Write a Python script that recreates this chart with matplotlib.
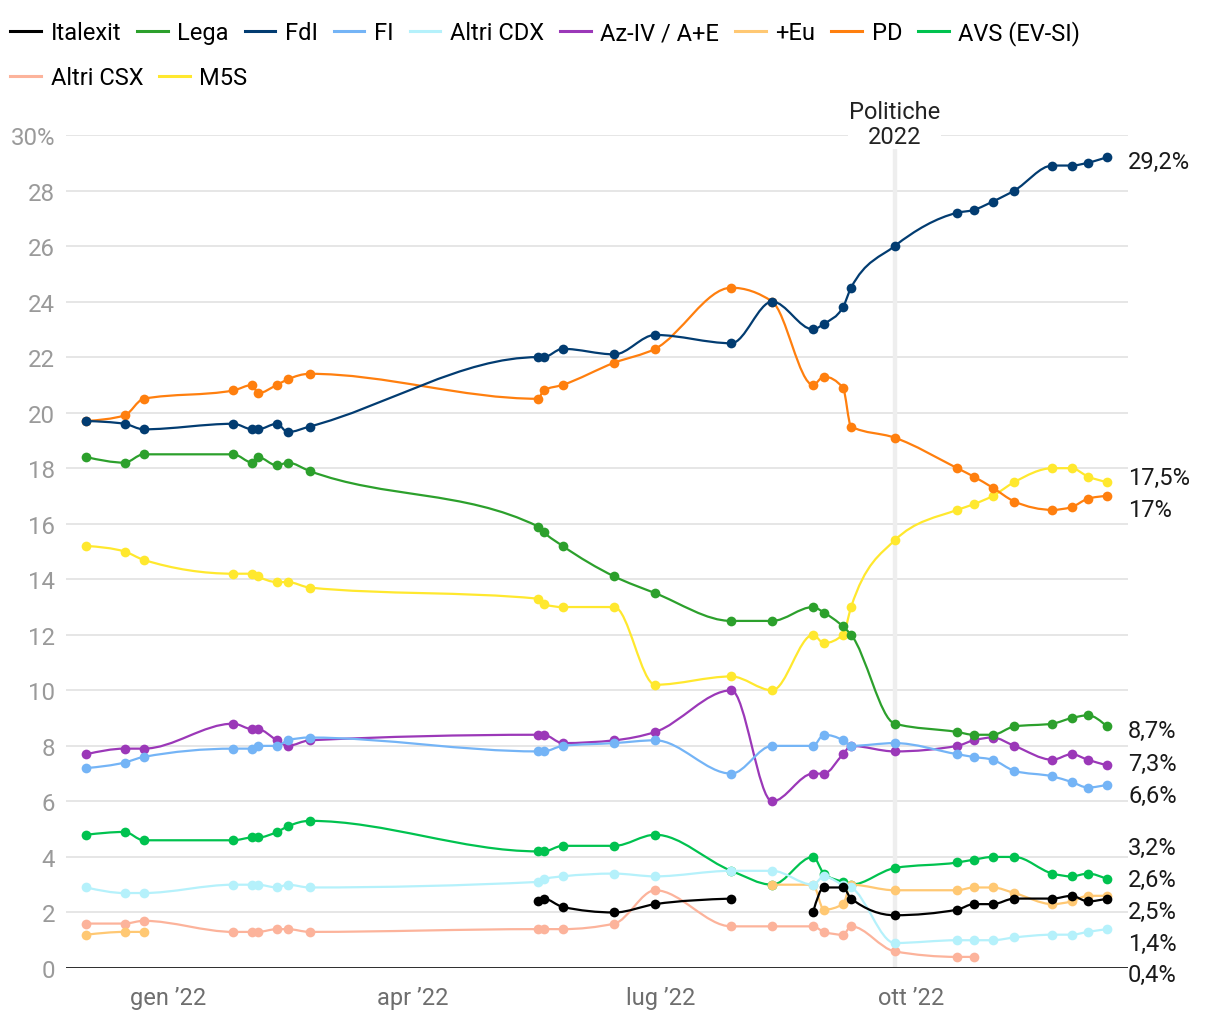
import numpy as np
import pandas as pd
import matplotlib
matplotlib.use("Agg")
import matplotlib.pyplot as plt
import matplotlib.dates as mdates
from matplotlib.path import Path
from matplotlib.patches import PathPatch
from matplotlib.lines import Line2D
from matplotlib.transforms import blended_transform_factory, offset_copy

plt.rcParams['font.family'] = ['Roboto', 'DejaVu Sans']

# poll dates (common grid), None = no value for that party
dates = ['2021-12-02', '2021-12-16', '2021-12-23', '2022-01-25', '2022-02-01',
         '2022-02-03', '2022-02-10', '2022-02-14', '2022-02-22', '2022-05-17',
         '2022-05-19', '2022-05-26', '2022-06-14', '2022-06-29', '2022-07-27',
         '2022-08-11', '2022-08-26', '2022-08-30', '2022-09-06', '2022-09-09',
         '2022-09-25', '2022-10-18', '2022-10-24', '2022-10-31', '2022-11-08',
         '2022-11-22', '2022-11-29', '2022-12-05', '2022-12-12']

N = None
italexit = [N, N, N, N, N, N, N, N, N, 2.4, 2.5, 2.2, 2.0, 2.3, 2.5,
            N, 2.0, 2.9, 2.9, 2.5, 1.9, 2.1, 2.3, 2.3, 2.5, 2.5, 2.6, 2.4, 2.5]
lega = [18.4, 18.2, 18.5, 18.5, 18.2, 18.4, 18.1, 18.2, 17.9, 15.9, 15.7, 15.2, 14.1, 13.5, 12.5,
        12.5, 13.0, 12.8, 12.3, 12.0, 8.8, 8.5, 8.4, 8.4, 8.7, 8.8, 9.0, 9.1, 8.7]
fdi = [19.7, 19.6, 19.4, 19.6, 19.4, 19.4, 19.6, 19.3, 19.5, 22.0, 22.0, 22.3, 22.1, 22.8, 22.5,
       24.0, 23.0, 23.2, 23.8, 24.5, 26.0, 27.2, 27.3, 27.6, 28.0, 28.9, 28.9, 29.0, 29.2]
fi = [7.2, 7.4, 7.6, 7.9, 7.9, 8.0, 8.0, 8.2, 8.3, 7.8, 7.8, 8.0, 8.1, 8.2, 7.0,
      8.0, 8.0, 8.4, 8.2, 8.0, 8.1, 7.7, 7.6, 7.5, 7.1, 6.9, 6.7, 6.5, 6.6]
altri_cdx = [2.9, 2.7, 2.7, 3.0, 3.0, 3.0, 2.9, 3.0, 2.9, 3.1, 3.2, 3.3, 3.4, 3.3, 3.5,
             3.5, 3.0, 3.3, 3.0, 2.9, 0.9, 1.0, 1.0, 1.0, 1.1, 1.2, 1.2, 1.3, 1.4]
azione = [7.7, 7.9, 7.9, 8.8, 8.6, 8.6, 8.2, 8.0, 8.2, 8.4, 8.4, 8.1, 8.2, 8.5, 10.0,
          6.0, 7.0, 7.0, 7.7, 8.0, 7.8, 8.0, 8.2, 8.3, 8.0, 7.5, 7.7, 7.5, 7.3]
piu_europa = [1.2, 1.3, 1.3, N, N, N, N, N, N, N, N, N, N, N, N,
              3.0, 3.0, 2.1, 2.3, 3.0, 2.8, 2.8, 2.9, 2.9, 2.7, 2.3, 2.4, 2.6, 2.6]
pd_ = [19.7, 19.9, 20.5, 20.8, 21.0, 20.7, 21.0, 21.2, 21.4, 20.5, 20.8, 21.0, 21.8, 22.3, 24.5,
       24.0, 21.0, 21.3, 20.9, 19.5, 19.1, 18.0, 17.7, 17.3, 16.8, 16.5, 16.6, 16.9, 17.0]
avs = [4.8, 4.9, 4.6, 4.6, 4.7, 4.7, 4.9, 5.1, 5.3, 4.2, 4.2, 4.4, 4.4, 4.8, 3.5,
       3.0, 4.0, 3.4, 3.1, 3.0, 3.6, 3.8, 3.9, 4.0, 4.0, 3.4, 3.3, 3.4, 3.2]
altri_csx = [1.6, 1.6, 1.7, 1.3, 1.3, 1.3, 1.4, 1.4, 1.3, 1.4, 1.4, 1.4, 1.6, 2.8, 1.5,
             1.5, 1.5, 1.3, 1.2, 1.5, 0.6, 0.4, 0.4, N, N, N, N, N, N]
m5s = [15.2, 15.0, 14.7, 14.2, 14.2, 14.1, 13.9, 13.9, 13.7, 13.3, 13.1, 13.0, 13.0, 10.2, 10.5,
       10.0, 12.0, 11.7, 12.0, 13.0, 15.4, 16.5, 16.7, 17.0, 17.5, 18.0, 18.0, 17.7, 17.5]

names = ['Italexit', 'Lega', 'FdI', 'FI', 'Altri CDX', 'Az-IV / A+E', '+Eu', 'PD',
         'AVS (EV-SI)', 'Altri CSX', 'M5S']
series = [italexit, lega, fdi, fi, altri_cdx, azione, piu_europa, pd_, avs, altri_csx, m5s]
colors = ['#000000', '#2ca02c', '#023c71', '#74b4f6', '#b5f1fb', '#9b38b8', '#ffc873',
          '#ff7f0e', '#00c24f', '#fcb39b', '#ffe82e']

election = '2022-09-25'


def monotone_path(x, y):
    # cubic monotone curve (like d3 curveMonotoneX) as bezier path
    n = len(x)
    if n == 2:
        return Path(list(zip(x, y)), [Path.MOVETO, Path.LINETO])
    h = np.diff(x)
    s = np.diff(y) / h
    t = np.zeros(n)
    for i in range(1, n - 1):
        h0, h1, s0, s1 = h[i - 1], h[i], s[i - 1], s[i]
        p = (s0 * h1 + s1 * h0) / (h0 + h1)
        t[i] = (np.sign(s0) + np.sign(s1)) * min(abs(s0), abs(s1), 0.5 * abs(p))
    t[0] = (3 * s[0] - t[1]) / 2
    t[-1] = (3 * s[-1] - t[-2]) / 2
    verts = [(x[0], y[0])]
    codes = [Path.MOVETO]
    for i in range(n - 1):
        dx = h[i] / 3
        verts += [(x[i] + dx, y[i] + dx * t[i]), (x[i + 1] - dx, y[i + 1] - dx * t[i + 1]),
                  (x[i + 1], y[i + 1])]
        codes += [Path.CURVE4] * 3
    return Path(verts, codes)


def segments(xs, vals):
    segs, cur = [], []
    for xv, v in zip(xs, vals):
        if v is None:
            if cur:
                segs.append(cur)
            cur = []
        else:
            cur.append((xv, v))
    if cur:
        segs.append(cur)
    return segs


def spread(vals, gap, floor):
    # push labels apart (sorted high to low), keep them above floor
    pos = list(vals)
    for _ in range(1000):
        moved = False
        for k in range(len(pos) - 1):
            d = pos[k] - pos[k + 1]
            if d < gap - 1e-9:
                shift = (gap - d) / 2
                pos[k] += shift
                pos[k + 1] -= shift
                moved = True
        if pos[-1] < floor:
            pos[-1] = floor
            moved = True
        if not moved:
            break
    return pos


x = mdates.date2num(pd.to_datetime(dates))

fig = plt.figure(figsize=(12.2, 10.2), dpi=100)
ax = fig.add_axes([66 / 1220, 51 / 1020, 1062 / 1220, 833 / 1020])

for sp in ax.spines.values():
    sp.set_visible(False)

ax.set_ylim(0, 30)
ax.set_xlim(mdates.date2num(pd.Timestamp('2021-11-24 12:00')),
            mdates.date2num(pd.Timestamp('2022-12-19 18:00')))

yt = list(range(0, 31, 2))
ax.set_yticks(yt)
ax.set_yticklabels([f'{v}%' if v == 30 else str(v) for v in yt])
for v in yt[1:]:
    ax.axhline(v, color='#e4e4e4', lw=1.3, zorder=0)
ax.axhline(0, color='#1a1a1a', lw=2, zorder=1)

ax.xaxis.set_major_locator(mdates.MonthLocator(bymonth=[1, 4, 7, 10]))
month_it = {1: 'gen', 4: 'apr', 7: 'lug', 10: 'ott'}
ax.xaxis.set_major_formatter(plt.FuncFormatter(
    lambda v, p: f"{month_it[mdates.num2date(v).month]} \u2019{mdates.num2date(v).strftime('%y')}"))
ax.tick_params(axis='x', length=0, pad=13, labelsize=17, labelcolor='#6e6e6e')
ax.tick_params(axis='y', length=0, pad=8, labelsize=17.3, labelcolor='#9a9a9a')

# election marker
ex = mdates.date2num(pd.Timestamp(election))
ax.vlines(ex, 0, 29.7, color='#eeeeee', lw=3.2, zorder=0.5)
ax.text(ex, 30.4, 'Politiche\n2022', ha='center', va='center', fontsize=17, color='#222222',
        linespacing=1.15, clip_on=False, zorder=2,
        bbox=dict(facecolor='white', edgecolor='none', pad=0.5))

# draw series, last in legend at the bottom
n_s = len(series)
for k in range(n_s - 1, -1, -1):
    vals, col = series[k], colors[k]
    z = 3 + (n_s - k)
    for seg in segments(x, vals):
        sx = np.array([p[0] for p in seg])
        sy = np.array([p[1] for p in seg])
        if len(sx) > 1:
            ax.add_patch(PathPatch(monotone_path(sx, sy), fill=False, edgecolor=col,
                                   lw=1.6, zorder=z, capstyle='round'))
        ax.plot(sx, sy, 'o', color=col, ms=7, mec='none', zorder=z + 0.5, clip_on=False)

# end labels
last = [[v for v in s if v is not None][-1] for s in series]
order = sorted(range(n_s), key=lambda i: -last[i])
pos = spread([last[i] for i in order], 1.15, -0.1)
tr = offset_copy(blended_transform_factory(ax.transAxes, ax.transData), fig=fig,
                 x=0, y=-3, units='points')
for i, yp in zip(order, pos):
    lab = f'{last[i]:g}'.replace('.', ',') + '%'
    ax.text(1.0, yp, lab, transform=tr, ha='left', va='center', fontsize=17,
            color='#1a1a1a', clip_on=False)

# legend in two rows
handles = [Line2D([], [], color=c, lw=2.2) for c in colors]
kw = dict(frameon=False, fontsize=17, handlelength=1.3, handletextpad=0.42,
          columnspacing=0.66, borderpad=0, borderaxespad=0, loc='upper left')
fig.legend(handles[:9], names[:9], ncol=9, bbox_to_anchor=(10 / 1220, 1 - 21 / 1020), **kw)
fig.legend(handles[9:], names[9:], ncol=2, bbox_to_anchor=(10 / 1220, 1 - 67 / 1020), **kw)

fig.savefig('out.png', dpi=100, facecolor='white')
